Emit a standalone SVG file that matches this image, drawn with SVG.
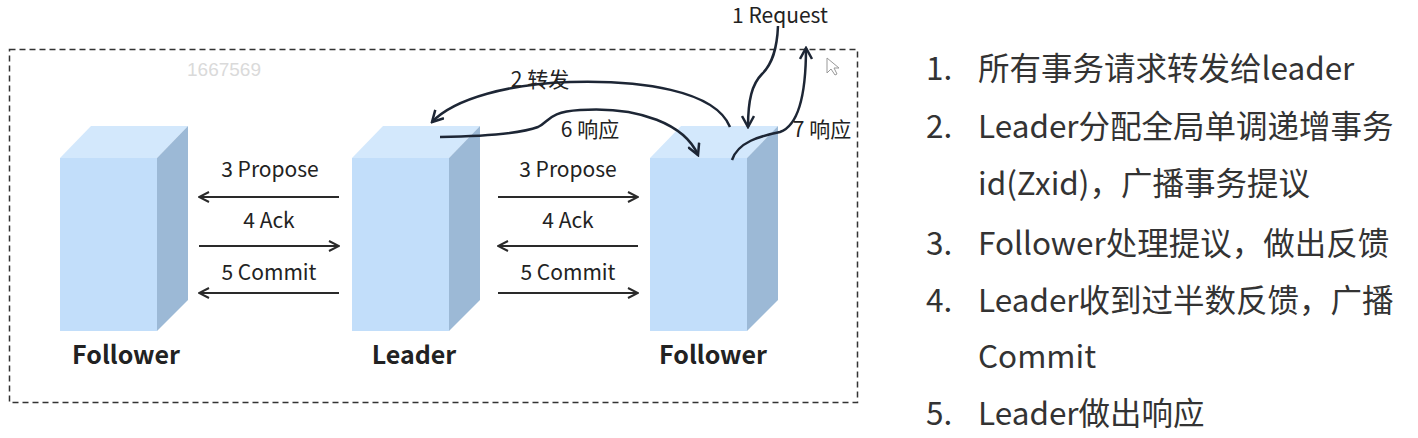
<svg xmlns="http://www.w3.org/2000/svg" width="1418" height="438" viewBox="0 0 1418 438">
<style>
.t{font-family:"Noto Sans CJK SC","Noto Sans",sans-serif;fill:#222;}
.lbl{font-size:21px;}
.nm{font-size:25px;font-weight:bold;}
.lst{font-size:31.5px;fill:#333;}
.front{fill:#c2defa;}
.top{fill:#d3e8fc;}
.side{fill:#9cb9d6;}
.ln{stroke:#2a2a2a;stroke-width:2;fill:none;}
.cv{stroke:#1d2635;stroke-width:2.5;fill:none;}
</style>
<defs>
<marker id="ah" viewBox="0 0 12 12" refX="11" refY="6" markerWidth="12" markerHeight="12" markerUnits="userSpaceOnUse" orient="auto">
<path d="M1,1 L11,6 L1,11" fill="none" stroke="#2a2a2a" stroke-width="2"/>
</marker>
<marker id="ah2" viewBox="0 0 14 14" refX="12" refY="7" markerWidth="14" markerHeight="14" markerUnits="userSpaceOnUse" orient="auto">
<path d="M1,1 L12,7 L1,13" fill="none" stroke="#1d2635" stroke-width="2.5"/>
</marker>
</defs>
<rect x="9.5" y="49.5" width="848" height="353" fill="none" stroke="#333" stroke-width="1.5" stroke-dasharray="6,4"/>
<text x="187" y="76" font-family="Liberation Sans,Arial,sans-serif" font-size="19" fill="#dadada">1667569</text>
<polygon points="827,58 827,73 831,69 835,75 837,74 834,68 839,68" fill="#fff" stroke="#999" stroke-width="1"/>

<g id="follower-left">
<polygon class="top" points="60,158 91,126 188,126 157,158"/>
<polygon class="side" points="157,158 188,126 188,300 157,331"/>
<rect class="front" x="60" y="158" width="97" height="173"/>
<text class="t nm" x="126" y="364" text-anchor="middle">Follower</text>
</g>
<g id="leader">
<polygon class="top" points="352,158 383,126 480,126 449,158"/>
<polygon class="side" points="449,158 480,126 480,300 449,331"/>
<rect class="front" x="352" y="158" width="97" height="173"/>
<text class="t nm" x="414" y="364" text-anchor="middle">Leader</text>
</g>
<g id="follower-right">
<polygon class="top" points="650,158 681,126 778,126 747,158"/>
<polygon class="side" points="747,158 778,126 778,300 747,331"/>
<rect class="front" x="650" y="158" width="97" height="173"/>
<text class="t nm" x="713" y="364" text-anchor="middle">Follower</text>
</g>

<g id="connectors">
<line class="ln" x1="339" y1="197" x2="199" y2="197" marker-end="url(#ah)"/>
<line class="ln" x1="199" y1="246" x2="339" y2="246" marker-end="url(#ah)"/>
<line class="ln" x1="339" y1="293" x2="199" y2="293" marker-end="url(#ah)"/>
<line class="ln" x1="498" y1="197" x2="638" y2="197" marker-end="url(#ah)"/>
<line class="ln" x1="638" y1="246" x2="498" y2="246" marker-end="url(#ah)"/>
<line class="ln" x1="498" y1="293" x2="638" y2="293" marker-end="url(#ah)"/>
<path class="cv" d="M730,127 C715,90 640,80 570,82 C510,84 455,98 432,122" marker-end="url(#ah2)"/>
<path class="cv" d="M440,137 C490,136 525,132 538,127 C550,121 548,112 580,110 C640,106 685,125 698,155" marker-end="url(#ah2)"/>
<path class="cv" d="M778,26 C777,50 772,64 762,74 C752,84 748,100 748,127" marker-end="url(#ah2)"/>
<path class="cv" d="M732,160 C738,142 760,136 780,132 C800,125 806,90 806,48" marker-end="url(#ah2)"/>
<text class="t lbl" x="270" y="177" text-anchor="middle">3 Propose</text>
<text class="t lbl" x="269" y="228" text-anchor="middle">4 Ack</text>
<text class="t lbl" x="269" y="280" text-anchor="middle">5 Commit</text>
<text class="t lbl" x="568" y="177" text-anchor="middle">3 Propose</text>
<text class="t lbl" x="568" y="228" text-anchor="middle">4 Ack</text>
<text class="t lbl" x="568" y="280" text-anchor="middle">5 Commit</text>
<text class="t lbl" x="540" y="87" text-anchor="middle">2 转发</text>
<text class="t lbl" x="590" y="137" text-anchor="middle">6 响应</text>
<text class="t lbl" x="780" y="23" text-anchor="middle">1 Request</text>
<text class="t lbl" x="822" y="137" text-anchor="middle">7 响应</text>
</g>

<g id="list">
<text class="t lst" x="926" y="80">1.</text>
<text class="t lst" x="978" y="80">所有事务请求转发给leader</text>
<text class="t lst" x="926" y="138">2.</text>
<text class="t lst" x="978" y="138">Leader分配全局单调递增事务</text>
<text class="t lst" x="978" y="195">id(Zxid)，广播事务提议</text>
<text class="t lst" x="926" y="255">3.</text>
<text class="t lst" x="978" y="255">Follower处理提议，做出反馈</text>
<text class="t lst" x="926" y="312">4.</text>
<text class="t lst" x="978" y="312">Leader收到过半数反馈，广播</text>
<text class="t lst" x="978" y="368">Commit</text>
<text class="t lst" x="926" y="425">5.</text>
<text class="t lst" x="978" y="425">Leader做出响应</text>
</g>
</svg>
